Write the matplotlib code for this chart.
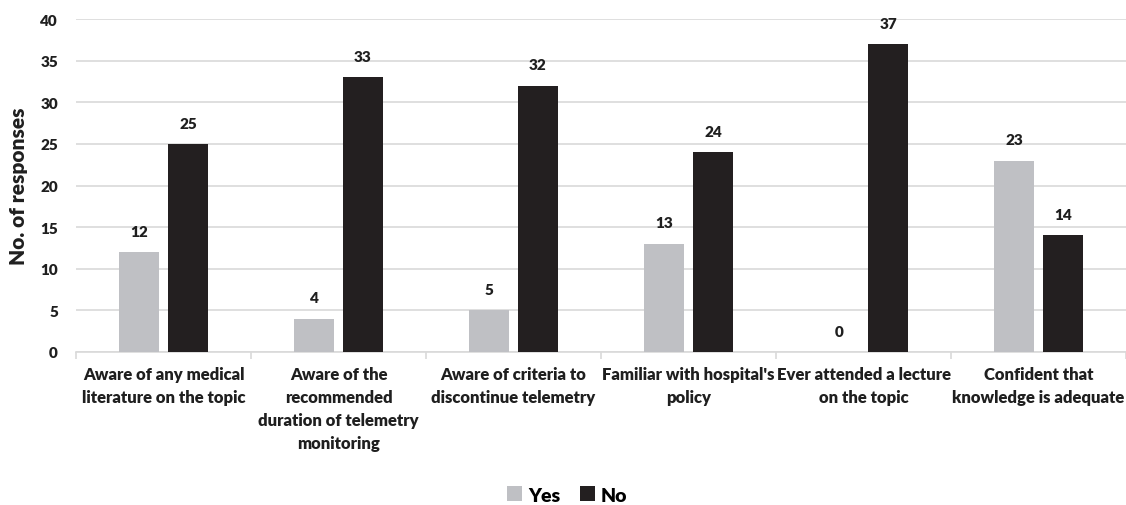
import matplotlib.pyplot as plt
import numpy as np

categories = ["Aware of any medical\nliterature on the topic",
              "Aware of the\nrecommended\nduration of telemetry\nmonitoring",
              "Aware of criteria to\ndiscontinue telemetry",
              "Familiar with hospital's\npolicy",
              "Ever attended a lecture\non the topic",
              "Confident that\nknowledge is adequate"]
yes_vals = [12, 4, 5, 13, 0, 23]
no_vals = [25, 33, 32, 24, 37, 14]

plt.rcParams['font.family'] = ['Lato', 'DejaVu Sans']
plt.rcParams['font.weight'] = 'bold'

fig = plt.figure(figsize=(11.26, 5.06), dpi=100)
ax = fig.add_axes([0.0675, 0.3024, 0.9325, 0.658])

x = np.arange(len(categories))
w = 0.223
b1 = ax.bar(x - 0.14, yes_vals, w, color="#bfc0c4", label="Yes", zorder=3)
b2 = ax.bar(x + 0.14, no_vals, w, color="#231f20", label="No", zorder=3)

for bars in (b1, b2):
    for r in bars:
        ax.annotate(str(int(r.get_height())),
                    (r.get_x() + r.get_width() / 2, r.get_height()),
                    xytext=(0, 15), textcoords="offset points",
                    ha="center", va="center", fontsize=11,
                    fontweight="heavy", color="#1f1f1f")

ax.set_xlim(-0.5, 5.5)
ax.set_ylim(0, 40)
ax.set_yticks(range(0, 41, 5))
ax.grid(axis="y", color="#d9d9d9", lw=1.2, zorder=0)

ax.set_xticks(x)
ax.set_xticklabels(categories, fontsize=12, fontweight="heavy",
                   color="#1f1f1f", linespacing=1.55)
ax.set_xticks(np.arange(-0.5, 6, 1), minor=True)
ax.tick_params(axis="x", which="major", length=0, pad=10)
ax.tick_params(axis="x", which="minor", length=5, color="#d9d9d9", width=1.2)
ax.tick_params(axis="y", length=0, pad=13, labelsize=11,
               labelcolor="#1f1f1f")
for lab in ax.get_yticklabels():
    lab.set_fontweight("heavy")

for s in ["top", "right", "left"]:
    ax.spines[s].set_visible(False)
ax.spines["bottom"].set_color("#d9d9d9")
ax.spines["bottom"].set_linewidth(1.2)

ax.set_ylabel("No. of responses", fontsize=15, fontweight="heavy",
              color="#1f1f1f")
ax.yaxis.set_label_coords(-0.046, 0.5)

fig.legend(handles=[b1, b2], loc="center", bbox_to_anchor=(0.5036, 0.0198),
           ncol=2, frameon=False, handlelength=0.8,
           handleheight=0.8, handletextpad=0.3, columnspacing=1.0,
           prop={"weight": "heavy", "size": 14})

fig.savefig("out.png", dpi=100)
